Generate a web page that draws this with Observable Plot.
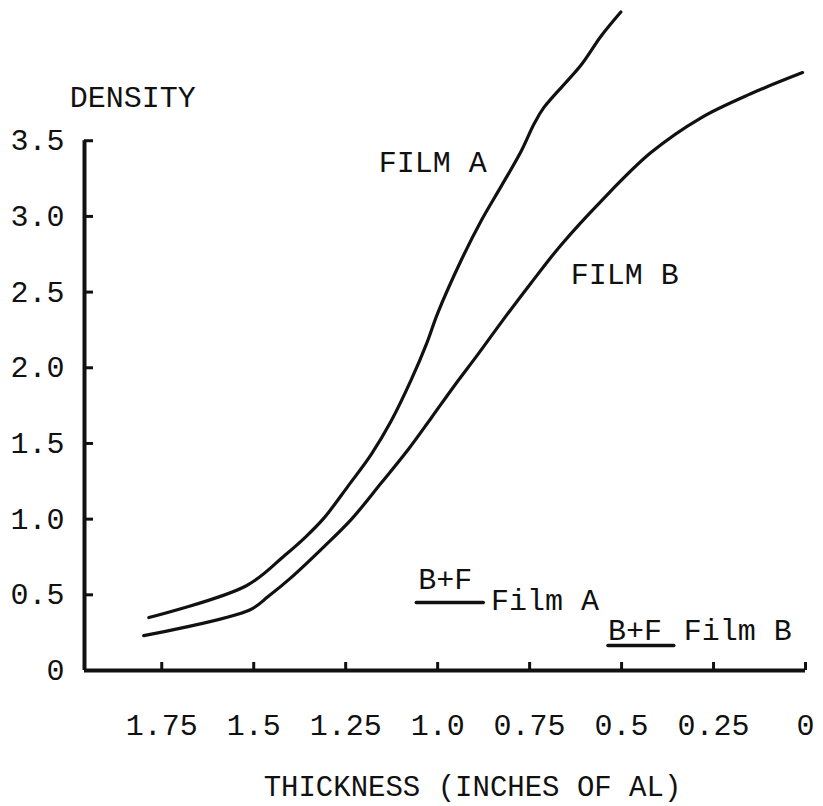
<!DOCTYPE html>
<html>
<head>
<meta charset="utf-8">
<script src="https://cdn.jsdelivr.net/npm/d3@7"></script>
<script src="https://cdn.jsdelivr.net/npm/@observablehq/plot@0.6"></script>
<style>
  html, body { margin: 0; padding: 0; background: #fff; }
  #chart svg { display: block; }
</style>
</head>
<body>
<div id="chart"></div>
<script>
// Density vs. aluminium thickness for two films (thickness decreases to the right)
const xTicks = [1.75, 1.5, 1.25, 1.0, 0.75, 0.5, 0.25, 0];
const xTickLabels = ["1.75", "1.5", "1.25", "1.0", "0.75", "0.5", "0.25", "0"];
const yTicks = [0, 0.5, 1.0, 1.5, 2.0, 2.5, 3.0, 3.5];
const yTickLabels = ["0", "0.5", "1.0", "1.5", "2.0", "2.5", "3.0", "3.5"];

// Film A characteristic curve
const thicknessA = [1.785, 1.52, 1.416, 1.36, 1.308, 1.243, 1.18, 1.126, 1.072, 1.03, 1.0, 0.936, 0.882, 0.827, 0.773, 0.738, 0.711, 0.61, 0.556, 0.502];
const densityA   = [0.35, 0.56, 0.76, 0.88, 1.01, 1.22, 1.43, 1.65, 1.92, 2.16, 2.36, 2.71, 2.97, 3.2, 3.43, 3.61, 3.72, 4.0, 4.19, 4.35];

// Film B characteristic curve
const thicknessB = [1.799, 1.511, 1.46, 1.40, 1.308, 1.234, 1.153, 1.08, 1.017, 0.955, 0.89, 0.827, 0.746, 0.665, 0.556, 0.421, 0.285, 0.149, 0.008];
const densityB   = [0.23, 0.40, 0.49, 0.61, 0.82, 1.00, 1.24, 1.46, 1.67, 1.88, 2.09, 2.30, 2.56, 2.81, 3.10, 3.42, 3.65, 3.81, 3.95];

// Base + fog density levels, drawn as short bars across a thickness span
const baseFogFilm = ["A", "B"];
const baseFogDensity = [0.45, 0.165];
const baseFogFrom = [1.058, 0.537];
const baseFogTo = [0.876, 0.358];

// Text annotations anchored in chart units (thickness, density)
const noteText = ["DENSITY", "FILM A", "FILM B", "B+F", "Film A", "B+F", "Film B"];
const noteX    = [2.0, 1.16, 0.638, 1.053, 0.855, 0.537, 0.331];
const noteY    = [3.785, 3.355, 2.62, 0.60, 0.462, 0.264, 0.264];

// Horizontal axis title
const xTitle = "THICKNESS (INCHES OF AL)";
const xTitleAt = [1.473, -0.77];

const xDomain = [1.96, 0];
const yDomain = [0, 4.4];

const curves = [
  ...thicknessA.map((t, i) => ({film: "A", thickness: t, density: densityA[i]})),
  ...thicknessB.map((t, i) => ({film: "B", thickness: t, density: densityB[i]}))
];
const baseFog = baseFogFilm.map((f, i) => ({film: f, density: baseFogDensity[i], x1: baseFogFrom[i], x2: baseFogTo[i]}));
const notes = noteText.map((t, i) => ({text: t, x: noteX[i], y: noteY[i]}));

const ink = "#111";

const chart = Plot.plot({
  width: 823,
  height: 806,
  marginLeft: 84,
  marginRight: 18,
  marginTop: 4,
  marginBottom: 136,
  style: {fontFamily: "'Liberation Mono', 'Courier New', monospace", fontSize: "30px", color: ink, background: "#fff"},
  x: {domain: xDomain, label: null},
  y: {domain: yDomain, label: null},
  marks: [
    // axes lines
    Plot.ruleY([0], {stroke: ink, strokeWidth: 4}),
    Plot.ruleX([xDomain[0]], {y1: 0, y2: yTicks[yTicks.length - 1], stroke: ink, strokeWidth: 4}),
    Plot.axisX({
      ticks: xTicks, tickSize: -8, tickPadding: 51, strokeWidth: 3,
      tickFormat: d => xTickLabels[xTicks.indexOf(d)], label: null, fill: ink
    }),
    Plot.axisY({
      ticks: yTicks, tickSize: -9, tickPadding: 29, strokeWidth: 3,
      tickFormat: d => yTickLabels[yTicks.indexOf(d)], label: null, fill: ink
    }),
    // characteristic curves
    Plot.line(curves, {
      x: "thickness", y: "density", z: "film",
      curve: "catmull-rom", stroke: ink, strokeWidth: 3.2,
      strokeLinecap: "round", strokeLinejoin: "round"
    }),
    // base + fog bars
    Plot.link(baseFog, {
      x1: "x1", x2: "x2", y1: "density", y2: "density",
      stroke: ink, strokeWidth: 3.5, strokeLinecap: "round"
    }),
    // annotations
    Plot.text(notes, {
      x: "x", y: "y", text: "text",
      textAnchor: "start", lineAnchor: "middle", fill: ink
    }),
    Plot.text([xTitle], {
      x: () => xTitleAt[0], y: () => xTitleAt[1], text: d => d,
      textAnchor: "start", lineAnchor: "middle", fontSize: 29, fill: ink
    })
  ]
});

document.getElementById("chart").append(chart);
</script>
</body>
</html>
